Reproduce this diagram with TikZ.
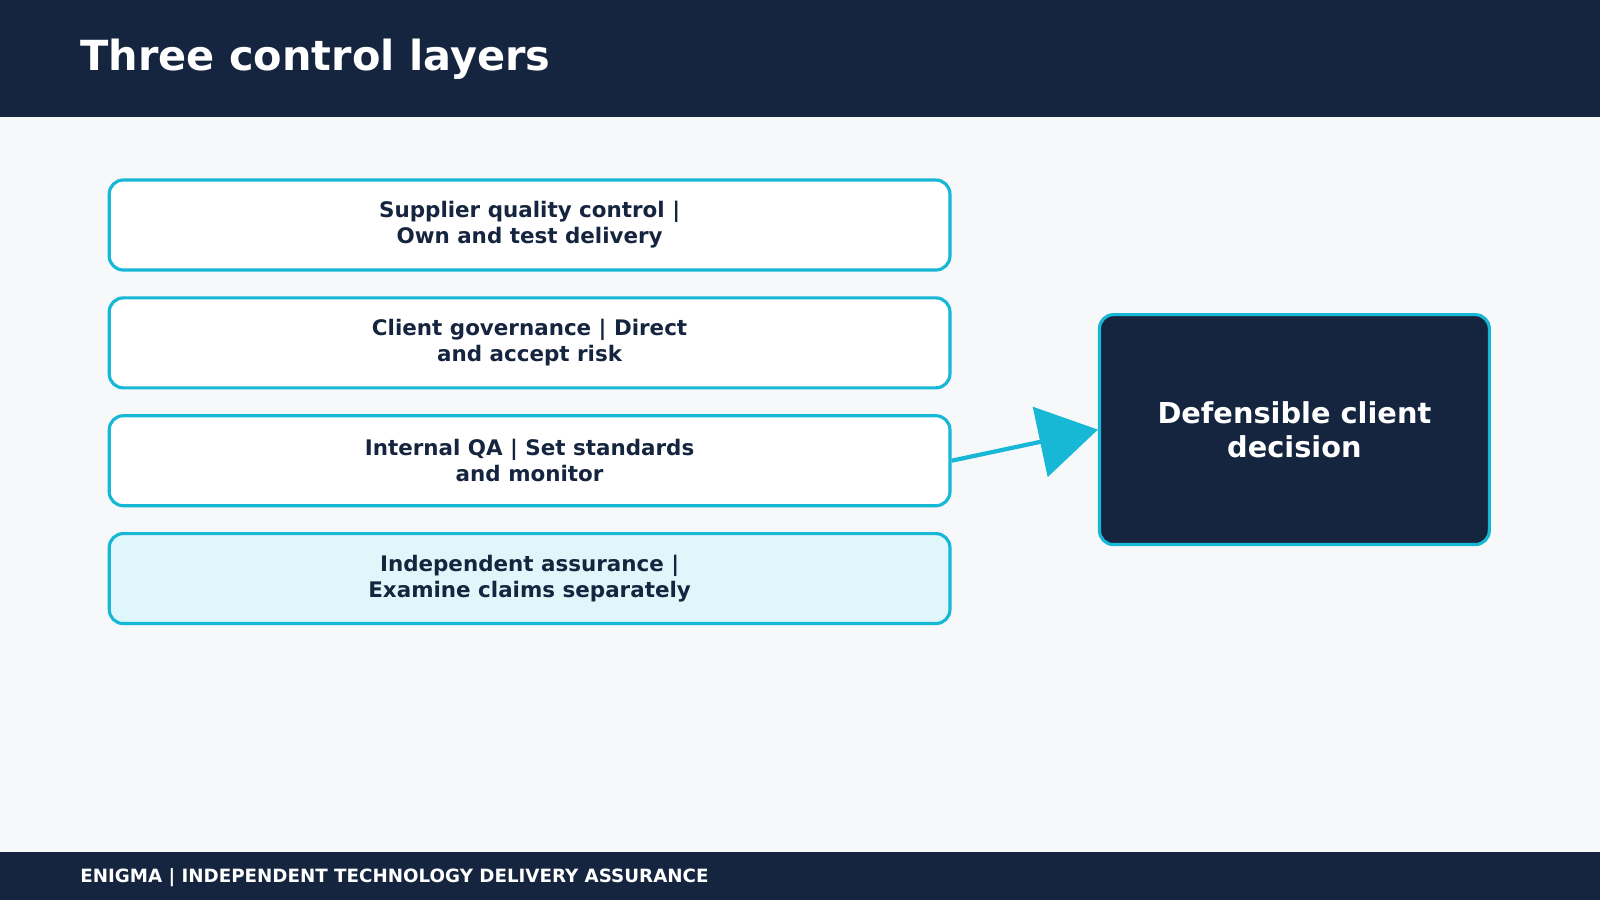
\documentclass[tikz,border=0pt]{standalone}
\usepackage{fontspec}
\setmainfont{DejaVu Sans}
\usetikzlibrary{arrows.meta}
\definecolor{navy}{HTML}{16253F}
\definecolor{cyan}{HTML}{17B8D6}
\definecolor{bg}{HTML}{F7F8FA}
\definecolor{lite}{HTML}{DFF6FA}
\begin{document}
\begin{tikzpicture}[x=0.010204cm,y=-0.010204cm,
  layer/.style={draw=cyan,line width=0.9pt,rounded corners=0.14cm,fill=white,minimum width=8.41cm,minimum height=0.9cm,align=center,text=navy,font=\bfseries\fontsize{6.1}{7.4}\selectfont,inner sep=0pt}]
\useasboundingbox (0,0) rectangle (1568,882);
\fill[bg] (0,0) rectangle (1568,882);
\fill[navy] (0,0) rectangle (1568,115);
\fill[navy] (0,835) rectangle (1568,882);
\node[anchor=west,text=white,font=\bfseries\fontsize{11.8}{14}\selectfont,inner sep=0pt] (title) at (78,58) {Three control layers};
\node[anchor=west,text=white,font=\bfseries\fontsize{5.2}{6}\selectfont,inner sep=0pt] (foot) at (78,860) {ENIGMA | INDEPENDENT TECHNOLOGY DELIVERY ASSURANCE};
\node[layer] (l1) at (519,220.5) {Supplier quality control |\\Own and test delivery};
\node[layer] (l2) at (519,336) {Client governance | Direct\\and accept risk};
\node[layer] (l3) at (519,451.5) {Internal QA | Set standards\\and monitor};
\node[layer,fill=lite] (l4) at (519,567) {Independent assurance |\\Examine claims separately};
\node[draw=cyan,line width=0.9pt,fill=navy,rounded corners=0.14cm,minimum width=3.9cm,minimum height=2.3cm,text=white,align=center,font=\bfseries\fontsize{8.2}{9.6}\selectfont,inner sep=0pt] (d) at (1268.5,421) {Defensible client\\decision};
\draw[cyan,line width=1.2pt,-{Triangle[length=0.59cm,width=0.71cm]}] (l3.east) -- (d.west);
\end{tikzpicture}
\end{document}
